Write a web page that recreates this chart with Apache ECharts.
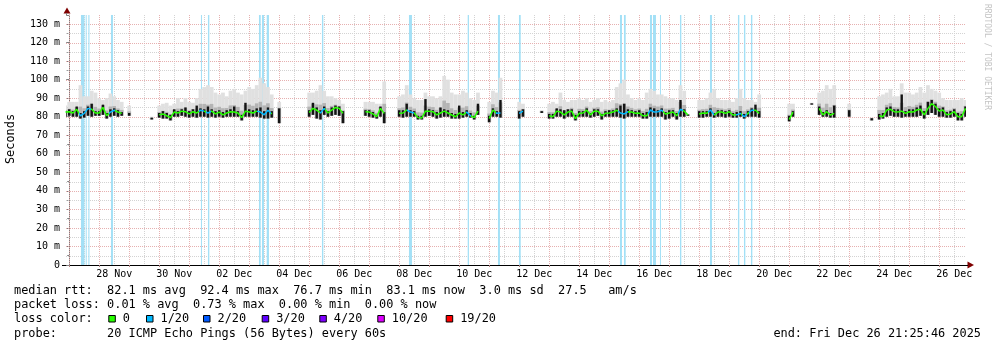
<!DOCTYPE html>
<html><head><meta charset="utf-8">
<script src="https://cdn.jsdelivr.net/npm/echarts@6/dist/echarts.min.js"></script>
<style>html,body{margin:0;padding:0;background:#fff}#c{width:997px;height:347px}</style>
</head><body><div id="c"></div>
<script>
const _ = null;
// RRD samples: one every 3 hours, hours relative to 27 Nov 2025 00:00
const sampleStartHour = -3;
const sampleStepHours = 3;

const median = [
82.5,82.7,82,84,80.5,81.8,84.5,84,82,82,
85,80.5,82.5,83.5,82.5,81.8,_,81.5,_,_,
_,_,_,79,_,81,81.5,80.5,79.5,82.5,
82,83,82.7,81.5,82.7,82,83.5,83,82,83,
81.5,82.5,81,82,82.7,82.5,82,79.5,83,82.5,
82,83,82.5,81,83.5,81.5,_,83.5,_,_,
_,_,_,_,_,82.2,84.5,83.5,82,84.5,
82,83.6,85,84.5,81.8,_,_,_,_,_,
82.7,82.5,81.5,80,84.5,81.8,_,_,_,81.8,
82,83.6,82.5,82,79.5,79.3,83,83,82.7,81,
82,83,82,80.9,80,82,81,82.5,80.5,79.5,
83,_,_,79,83.6,81.8,82,_,_,_,
_,81.8,83,_,_,_,_,82.7,_,80.5,
80,83,82.5,81,82.5,83,79,81.8,82,83.5,
81,83,83,80.5,81.8,82,82.5,83.5,82,81.5,
82.7,82.5,81.8,82,80.5,80.5,83.6,82.5,82.7,83.5,
81.5,82,82.5,80.5,84,83,80.9,_,_,81.5,
82,81.8,83.6,80.9,82.5,82.5,81.8,82.7,80.9,81,
81.8,80,81.8,83.5,83.5,81.8,_,_,_,_,
_,_,_,78.5,82.5,_,_,_,_,87,
_,84.5,81,82.7,80.9,81.8,_,_,_,82.5,
_,_,_,_,_,79,_,80.5,80,83.6,
84,82.7,82.5,83,81.8,82.7,82.5,83.6,84,81,
84.5,87,85.5,83,83.6,81,81.5,82.7,80,80,
84.5];

const smokeLow = [
80,80.5,80,80,79,79.5,80.5,80,80.5,80.5,
81,79,80,80.5,80,80.5,_,80.5,_,_,
_,_,_,78.5,_,79.5,79,79,78,80,
80,80.5,80,79.5,80,79.5,80,80,79.5,80,
79.5,80,79.5,80,80,80,80,78,80,80,
80,80,79.5,79,79,79.5,_,76.5,_,_,
_,_,_,_,_,80,81,79,78.5,81,
80,80.5,81,80.5,76.5,_,_,_,_,_,
80.5,80,79.5,79,80,76.5,_,_,_,80,
79.5,80,80,80,78.5,78.5,80,80.5,80,79,
79.5,80,80,79,79,79,79.5,80,79.5,78.5,
81,_,_,77,80,80,79.5,_,_,_,
_,79,80,_,_,_,_,82,_,79,
79,80,80,79,80,80,78,80,80,80,
79.5,80,80.5,78.5,80,80,80,80,79.5,79,
80,80,80,80,79,79,80,80,80,80,
78.5,79,80,78.5,80,80,80.5,_,_,79.5,
79.5,80,80,79.5,80,80,79.5,80,79.5,79.5,
80,79,80,80,80,79.5,_,_,_,_,
_,_,_,77.5,80,_,_,_,_,86.5,
_,81,80,80,79.5,79.5,_,_,_,80,
_,_,_,_,_,78,_,78.5,79,80,
80.5,80,80,79.5,80,80,80,80,80.5,79,
81,82,81,80,80,79.5,79.5,80,78,78,
80];

const smokeHigh = [
86,88,88,88,97,91,91,94,93,90,
89,90,92.5,91,89,88,_,86,_,_,
_,_,_,80,_,86,87,87.5,86,87,
90,88,90,88,87.5,90,95,96,97,96,
93,92,93,91,94,95,93,92,94,96,
95,97,101,98,96,92,_,88,_,_,
_,_,_,_,_,93,93,94,97,94,
91,91,90,89,87,_,_,_,_,_,
88,88,88,87,87,99,_,_,_,91,
92,97,92,90,89,89,93,91,91,90,
91,102,100,93,92,92,94,93,90,89,
93,_,_,88,94,93,101,_,_,_,
_,88,87,_,_,_,_,83.5,_,87,
88,87,93,89,88,89,89,90,89,90,
88,89,90,88,89,88,89,96,98,100,
92,90,89,90,89,93,95,94,92,92,
91,90,90,89,97,94,81.5,_,_,89,
89,90,93,95,90,89,89,89,88,90,
95,90,89,89,88,92,_,_,_,_,
_,_,_,87,87,_,_,_,_,87.5,
_,93,94,97,95,97,_,_,_,87,
_,_,_,_,_,79.5,_,91,92,93,
95,91,91,98,93,93,92,93,96,93,
97,95,94,93,90,89,89,89,89,90,
89];

const coreHigh = [
83,84,83,85.5,82,83,85.5,87,83,83,
86.5,82,84,84.5,83.5,82.5,_,82,_,_,
_,_,_,79.5,_,82,83,82,81,84,
83,84,85,83,84,86,84.5,84,85.5,84,
83,83.5,82.5,83.5,84,85.5,83,81,87.5,84,
83.5,84.5,85,83,85,83,_,84.5,_,_,
_,_,_,_,_,83.5,87.5,85,83.5,85.5,
83,85,86,85.5,83,_,_,_,_,_,
83.5,83.5,82.5,81,85.5,82.5,_,_,_,83.5,
83.5,87,83.5,83,80.5,80.5,89.5,84,83.5,82.5,
85,84,83.5,82,81.5,86,82.5,83.5,82,80.5,
87,_,_,80.5,84.5,83,89,_,_,_,
_,83,84,_,_,_,_,83,_,81.5,
81.5,84.5,84,83.5,84,84,81,83,83,84.5,
82,84,84,81.5,83,83.5,83.5,84.5,86,87,
84,83.5,83,83.5,82,82.5,85,84.5,83.5,84.5,
82.5,83.5,83.5,82,89,84,81.2,_,_,83,
83,83,84.5,82,83.5,83.5,83,83.5,82,82.5,
83,81.5,83,84.5,86.5,83,_,_,_,_,
_,_,_,80.5,83,_,_,_,_,87.2,
_,85.5,82.5,83.5,82,86,_,_,_,83.5,
_,_,_,_,_,79.2,_,81.5,82,85,
85.5,84,84,92,83,84,84,85,86,83,
88,89,87,84.5,85,82.5,83,84,82,81.5,
85.5];

// loss periods (hours relative to 27 Nov 00:00)
const lossStart = [9.4,13.2,15.3,33.4,105.4,111.0,151.8,154.2,158.0,202.2,271.8,318.8,343.0,359.8,440.6,443.8,464.6,467.0,472.6,488.6,512.6,535.0,539.8,545.4];
const lossEnd   = [12.2,14.0,16.2,35.0,106.2,112.1,153.2,155.8,159.8,203.3,274.2,319.8,344.6,361.2,442.2,445.2,466.2,469.4,473.4,489.7,514.2,536.1,540.9,546.5];

const xLabelHours = [36,84,132,180,228,276,324,372,420,468,516,564,612,660,708];
const xLabels = ['28 Nov','30 Nov','02 Dec','04 Dec','06 Dec','08 Dec','10 Dec','12 Dec','14 Dec','16 Dec','18 Dec','20 Dec','22 Dec','24 Dec','26 Dec'];

const lossColorLabels = ['0','1/20','2/20','3/20','4/20','10/20','19/20'];
const lossColors = ['#26ff00','#00b8ff','#0059ff','#5e00ff','#7e00ff','#dd00ff','#ff0000'];

const statLines = [
  'median rtt:  82.1 ms avg  92.4 ms max  76.7 ms min  83.1 ms now  3.0 ms sd  27.5   am/s',
  'packet loss: 0.01 % avg  0.73 % max  0.00 % min  0.00 % now',
  'loss color:',
  'probe:       20 ICMP Echo Pings (56 Bytes) every 60s'
];
const endText = 'end: Fri Dec 26 21:25:46 2025';

// ---- axis ranges ----
const xMin = -2.5706, xMax = 717.4294;
const yMax = 134.86;

const MGRID = '#e6b0b0', GRID = '#d3d3d3';
const MONO = '"DejaVu Sans Mono", monospace';

const vGrid = [];
for (let h = 0; h <= 696; h += 24) vGrid.push([h, 1]);
for (let h = 12; h <= 708; h += 24) vGrid.push([h, 0]);
const hGrid = [];
for (let v = 5; v <= 130; v += 5) hGrid.push([xMin, v, v % 10 === 0 ? 1 : 0]);

const smokeData = [], lineData = [];
for (let i = 0; i < median.length; i++) {
  const t = sampleStartHour + i * sampleStepHours;
  lineData.push([t, median[i]]);
  if (median[i] !== null) smokeData.push([t, smokeLow[i], smokeHigh[i], median[i], coreHigh[i]]);
}
const lossData = lossStart.map((s, i) => [s, lossEnd[i]]);

const chart = echarts.init(document.getElementById('c'), null, {renderer: 'canvas'});

const graphics = [];
graphics.push({type:'polygon', shape:{points:[[63.5,13.5],[70.5,13.5],[67,7.5]]}, style:{fill:'#7f0000'}, z:100});
graphics.push({type:'line', shape:{x1:66.5,y1:13,x2:66.5,y2:15}, style:{stroke:'#808080',lineWidth:1}, z:100});
graphics.push({type:'polygon', shape:{points:[[967.5,261.5],[967.5,268.5],[974,265]]}, style:{fill:'#7f0000'}, z:100});
graphics.push({type:'line', shape:{x1:62,y1:265.5,x2:66,y2:265.5}, style:{stroke:'#000',lineWidth:1}, z:100});
graphics.push({type:'line', shape:{x1:966,y1:265.5,x2:968,y2:265.5}, style:{stroke:'#000',lineWidth:1}, z:100});
graphics.push({type:'text', x:11, y:139, rotation:Math.PI/2,
  style:{text:'Seconds', x:0, y:0, font:'11.9px ' + MONO, fill:'#000', align:'center', verticalAlign:'middle', textAlign:'center', textVerticalAlign:'middle'}});
graphics.push({type:'text', x:987, y:4, rotation:-Math.PI/2,
  style:{text:'RRDTOOL / TOBI OETIKER', x:0, y:0, font:'8px ' + MONO, fill:'#c4c4c4', align:'left', verticalAlign:'middle', textAlign:'left', textVerticalAlign:'middle'}});
const lineYs = [290.8, 305.1, 319.3, 333.5];
statLines.forEach((s, k) => {
  graphics.push({type:'text', style:{text:s, x:14, y:lineYs[k], font:'11.9px ' + MONO, fill:'#000', verticalAlign:'middle', textVerticalAlign:'middle'}});
});
graphics.push({type:'text', style:{text:endText, x:981, y:lineYs[3], font:'11.9px ' + MONO, fill:'#000', align:'right', textAlign:'right', verticalAlign:'middle', textVerticalAlign:'middle'}});
const boxX = [108.3, 146, 203, 261.7, 319.3, 377.3, 445.7];
lossColorLabels.forEach((lab, k) => {
  graphics.push({type:'rect', shape:{x:boxX[k]+0.5, y:315.5, width:6.5, height:6.5}, style:{fill:lossColors[k], stroke:'#000', lineWidth:1}});
  graphics.push({type:'text', style:{text:lab, x:boxX[k]+14.5, y:lineYs[2], font:'11.9px ' + MONO, fill:'#000', verticalAlign:'middle', textVerticalAlign:'middle'}});
});

const option = {
  animation: false,
  backgroundColor: '#ffffff',
  grid: {left: 66, top: 15, width: 900, height: 250, containLabel: false},
  xAxis: {
    type: 'value', min: xMin, max: xMax,
    axisLine: {show: true, lineStyle: {color: '#000', width: 1}},
    axisTick: {show: true, customValues: vGrid.filter(d => d[1] === 1).map(d => d[0]), length: 2, lineStyle: {color: '#b08080'}},
    axisLabel: {customValues: xLabelHours, formatter: v => xLabels[xLabelHours.indexOf(v)] || '',
      fontFamily: MONO, fontSize: 10, color: '#000', margin: 4},
    splitLine: {show: false}
  },
  yAxis: {
    type: 'value', min: 0, max: yMax, interval: 10,
    axisLine: {show: true, lineStyle: {color: '#808080', width: 1}},
    axisTick: {show: true, length: 3, lineStyle: {color: '#808080'}},
    minorTick: {show: true, splitNumber: 2, length: 2, lineStyle: {color: '#808080'}},
    axisLabel: {formatter: v => v === 0 ? '0' : v + ' m', showMaxLabel: false,
      fontFamily: MONO, fontSize: 10, color: '#000', margin: 6},
    splitLine: {show: false}
  },
  visualMap: {
    show: false, type: 'piecewise', seriesIndex: 5, dimension: 0,
    pieces: lossData.map(d => ({gte: d[0] - 1.5, lte: d[1] + 1.5, color: lossColors[1]})),
    outOfRange: {color: lossColors[0]}
  },
  series: [
    { type: 'custom', name: 'vgrid', silent: true, z: 1, clip: true, data: vGrid, encode: {x: 0, y: 1},
      renderItem: (p, api) => {
        const h = api.value(0), major = api.value(1);
        const a = api.coord([h, yMax]), b = api.coord([h, 0]);
        const x = Math.round(a[0]) + 0.5;
        return {type: 'line', shape: {x1: x, y1: a[1], x2: x, y2: b[1]},
          style: {stroke: major ? MGRID : GRID, lineWidth: 1, lineDash: [1, 1]}};
      } },
    { type: 'custom', name: 'hgrid', silent: true, z: 1, clip: true, data: hGrid, encode: {x: 0, y: 1},
      renderItem: (p, api) => {
        const v = api.value(1), major = api.value(2);
        const a = api.coord([xMin, v]), b = api.coord([xMax, v]);
        const y = Math.round(a[1]) + 0.5;
        return {type: 'line', shape: {x1: a[0], y1: y, x2: b[0] + 2, y2: y},
          style: {stroke: major ? MGRID : GRID, lineWidth: 1, lineDash: [1, 1]}};
      } },
    { type: 'custom', name: 'loss', silent: true, z: 2, clip: true, data: lossData, encode: {x: [0, 1]},
      renderItem: (p, api) => {
        const a = api.coord([api.value(0), yMax]), b = api.coord([api.value(1), 0]);
        return {type: 'rect', shape: {x: a[0], y: a[1], width: Math.max(1, b[0] - a[0]), height: b[1] - a[1]},
          style: {fill: '#a3e0f6'}};
      } },
    { type: 'custom', name: 'smoke', silent: true, z: 3, clip: true, data: smokeData, encode: {x: 0, y: [1, 2]},
      renderItem: (p, api) => {
        const t = api.value(0), lo = api.value(1), hi = api.value(2), md = api.value(3);
        const half = sampleStepHours / 2;
        const a = api.coord([t - half, hi]), b = api.coord([t + half, lo]);
        const m = api.coord([t, md + (hi - md) * 0.3]);
        return {type: 'group', children: [
          {type: 'rect', shape: {x: a[0], y: a[1], width: b[0] - a[0], height: b[1] - a[1]}, style: {fill: '#e0e0e0'}},
          {type: 'rect', shape: {x: a[0], y: m[1], width: b[0] - a[0], height: b[1] - m[1]}, style: {fill: '#b4b4b4'}}
        ]};
      } },
    { type: 'custom', name: 'core', silent: true, z: 4, clip: true, data: smokeData, encode: {x: 0, y: [1, 4]},
      renderItem: (p, api) => {
        const t = api.value(0), lo = api.value(1), ck = api.value(4);
        const a = api.coord([t, ck]), b = api.coord([t, lo]);
        return {type: 'rect', shape: {x: a[0] - 1.2, y: a[1], width: 2.4, height: b[1] - a[1]}, style: {fill: '#141414'}};
      } },
    { type: 'line', name: 'median', z: 5, data: lineData, showSymbol: false, symbol: 'none',
      connectNulls: false, clip: true, lineStyle: {width: 1.5}, silent: true }
  ],
  graphic: graphics
};
chart.setOption(option);
</script>
</body></html>
